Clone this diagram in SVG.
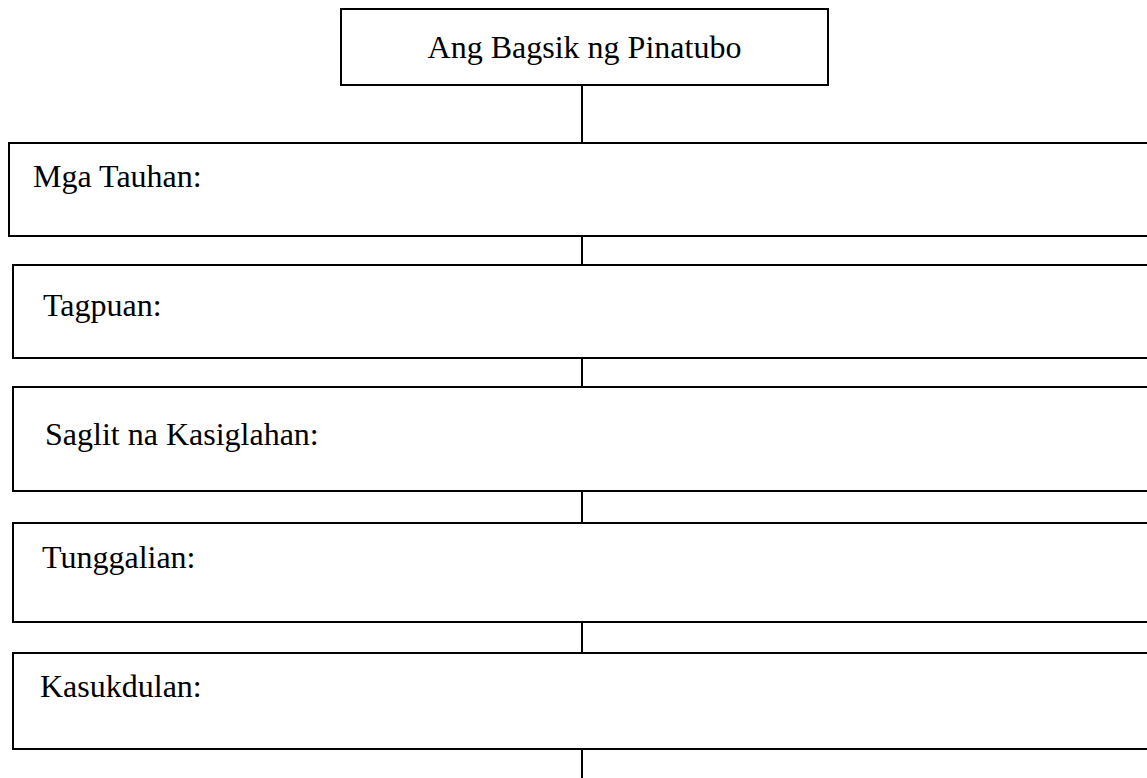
<svg xmlns="http://www.w3.org/2000/svg" width="1147" height="778" viewBox="0 0 1147 778">
<style>
.box{fill:#fff;stroke:#000;stroke-width:2}
.lbl{font-family:"Liberation Serif","Times New Roman",serif;font-size:32px;fill:#000}
.conn{stroke:#000;stroke-width:2;fill:none}
</style>
<rect width="1147" height="778" fill="#fff"/>
<g id="connectors">
<line class="conn" x1="582" y1="85" x2="582" y2="143"/>
<line class="conn" x1="582" y1="236" x2="582" y2="265"/>
<line class="conn" x1="582" y1="358" x2="582" y2="387"/>
<line class="conn" x1="582" y1="491" x2="582" y2="523"/>
<line class="conn" x1="582" y1="622" x2="582" y2="653"/>
<line class="conn" x1="582" y1="749" x2="582" y2="778"/>
</g>
<g id="title">
<rect class="box" x="341" y="9" width="487" height="76"/>
<text class="lbl" x="584.5" y="58" text-anchor="middle">Ang Bagsik ng Pinatubo</text>
</g>
<g id="tauhan">
<rect class="box" x="9" y="143" width="1150" height="93"/>
<text class="lbl" x="33" y="187">Mga Tauhan:</text>
</g>
<g id="tagpuan">
<rect class="box" x="13" y="265" width="1150" height="93"/>
<text class="lbl" x="43" y="316">Tagpuan:</text>
</g>
<g id="saglit">
<rect class="box" x="13" y="387" width="1150" height="104"/>
<text class="lbl" x="45" y="445">Saglit na Kasiglahan:</text>
</g>
<g id="tunggalian">
<rect class="box" x="13" y="523" width="1150" height="99"/>
<text class="lbl" x="42" y="568">Tunggalian:</text>
</g>
<g id="kasukdulan">
<rect class="box" x="13" y="653" width="1150" height="96"/>
<text class="lbl" x="40" y="697">Kasukdulan:</text>
</g>
</svg>
